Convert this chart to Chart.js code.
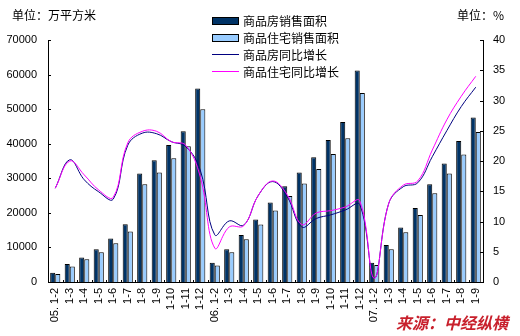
<!DOCTYPE html>
<html>
<head>
<meta charset="utf-8">
<script src="https://cdn.jsdelivr.net/npm/chart.js@4.4.1/dist/chart.umd.min.js"></script>
<style>
  body { margin: 0; background: #fff; }
  #wrap { position: relative; width: 520px; height: 336px; font-family: "Noto Sans CJK SC", sans-serif; }
  #myChart { position: absolute; left: 0; top: 0; }
  .unit { position: absolute; font-size: 12px; line-height: 14px; color: #000; }
  #source { position: absolute; left: 396px; top: 312px; font-size: 16px; line-height: 20px; font-weight: bold; font-style: italic; color: #c8202c; }
  #legend { position: absolute; left: 212px; top: 12px; font-size: 12px; color: #000; }
  .row { position: relative; height: 17px; line-height: 17px; padding-left: 31px; white-space: nowrap; }
  .box { position: absolute; left: 0; top: 5px; width: 25px; height: 6px; border: 1px solid #000; }
  .ln { position: absolute; left: 0; top: 8px; width: 27px; height: 1px; }
</style>
</head>
<body>
<div id="wrap">
  <canvas id="myChart" width="520" height="336"></canvas>
  <div class="unit" style="left:12px; top:8px;">单位：万平方米</div>
  <div class="unit" style="left:457px; top:8px;">单位：%</div>
  <div id="legend"></div>
  <div id="source">来源：中经纵横</div>
</div>
<script>
const months = ['05. 1-2', '1-3', '1-4', '1-5', '1-6', '1-7', '1-8', '1-9', '1-10', '1-11', '1-12',
    '06. 1-2', '1-3', '1-4', '1-5', '1-6', '1-7', '1-8', '1-9', '1-10', '1-11', '1-12',
    '07. 1-2', '1-3', '1-4', '1-5', '1-6', '1-7', '1-8', '1-9'];

// sales area, 10k m2
const salesArea = [2700, 5200, 7100, 9500, 12600, 16700, 31400, 35200, 39600, 43600, 56000,
    5600, 9500, 13600, 18100, 23000, 27700, 31700, 36100, 41100, 46300, 61200,
    5600, 10700, 15800, 21400, 28300, 34300, 40800, 47600];
const houseArea = [2300, 4500, 6600, 8600, 11200, 14600, 28300, 31700, 35800, 39300, 50000,
    4800, 8600, 12400, 16600, 20700, 24900, 28500, 32700, 37000, 41600, 54700,
    4900, 9500, 14400, 19400, 25700, 31400, 36900, 43400];

// year-on-year growth, %
const salesGrowth = [15.5, 20.2, 16.9, 14.9, 13.7, 22.6, 24.6, 24.5, 23.2, 22.4, 18.5,
    7.8, 10.1, 9.4, 14.3, 16.6, 14.1, 9.1, 10.5, 11.1, 11.9, 12.8,
    0.6, 13.0, 15.75, 16.4, 20.7, 25.0, 29.0, 32.2];
const houseGrowth = [15.5, 20.0, 17.7, 15.2, 14.0, 23.0, 24.9, 24.9, 23.2, 22.6, 17.4,
    5.6, 9.1, 9.3, 14.3, 16.7, 14.4, 9.5, 11.4, 11.8, 12.4, 13.4,
    0.6, 13.0, 16.0, 16.7, 21.8, 26.8, 30.7, 34.0];

const areaTicks = [0, 10000, 20000, 30000, 40000, 50000, 60000, 70000];
const growthTicks = [0, 5, 10, 15, 20, 25, 30, 35, 40];

const datasets = [
    { type: 'bar', label: '商品房销售面积', data: salesArea, backgroundColor: '#003366', borderColor: '#000', borderWidth: 1, yAxisID: 'y', order: 2 },
    { type: 'bar', label: '商品住宅销售面积', data: houseArea, backgroundColor: '#99ccff', borderColor: '#000', borderWidth: 1, yAxisID: 'y', order: 2 },
    { type: 'line', label: '商品房同比增长', data: salesGrowth, borderColor: '#000080', borderWidth: 1, pointRadius: 0, tension: 0.4, yAxisID: 'y1', order: 1 },
    { type: 'line', label: '商品住宅同比增长', data: houseGrowth, borderColor: '#ff00ff', borderWidth: 1, pointRadius: 0, tension: 0.4, yAxisID: 'y1', order: 0 }
];

// legend rows
const legend = document.getElementById('legend');
datasets.forEach((ds) => {
    const row = document.createElement('div');
    row.className = 'row';
    const mark = document.createElement('span');
    if (ds.type == 'bar') {
        mark.className = 'box';
        mark.style.background = ds.backgroundColor;
    } else {
        mark.className = 'ln';
        mark.style.background = ds.borderColor;
    }
    row.appendChild(mark);
    row.appendChild(document.createTextNode(ds.label));
    legend.appendChild(row);
});

// small inward tick marks on the three axes
const innerTicks = {
    id: 'innerTicks',
    afterDraw(chart) {
        const ctx = chart.ctx;
        const area = chart.chartArea;
        const x = chart.scales.x;
        ctx.save();
        ctx.strokeStyle = '#000';
        ctx.lineWidth = 1;
        ctx.beginPath();
        areaTicks.forEach((v) => {
            const py = Math.round(chart.scales.y.getPixelForValue(v)) + 0.5;
            ctx.moveTo(area.left, py);
            ctx.lineTo(area.left + 3, py);
        });
        growthTicks.forEach((v) => {
            const py = Math.round(chart.scales.y1.getPixelForValue(v)) + 0.5;
            ctx.moveTo(area.right - 3, py);
            ctx.lineTo(area.right, py);
        });
        const step = x.getPixelForValue(1) - x.getPixelForValue(0);
        for (let i = 0; i <= months.length; i++) {
            const px = Math.round(x.getPixelForValue(i) - step / 2) + 0.5;
            ctx.moveTo(px, area.bottom);
            ctx.lineTo(px, area.bottom - 2);
        }
        ctx.stroke();
        ctx.restore();
    }
};

Chart.defaults.color = '#000';
Chart.defaults.font.family = '"Liberation Sans", Arial, sans-serif';
Chart.defaults.font.size = 11;

new Chart(document.getElementById('myChart'), {
    data: { labels: months, datasets: datasets },
    options: {
        responsive: false,
        animation: false,
        layout: { padding: { top: 40, left: 0, right: 0, bottom: 0 } },
        plugins: { legend: { display: false }, tooltip: { enabled: false } },
        datasets: { bar: { categoryPercentage: 0.7, barPercentage: 1 } },
        scales: {
            x: {
                grid: { display: false, drawTicks: false },
                border: { color: '#000' },
                ticks: { autoSkip: false, minRotation: 90, maxRotation: 90, padding: 6 },
                afterFit: (s) => { s.height = 54; }
            },
            y: {
                position: 'left',
                min: 0, max: 70000,
                grid: { display: false, drawTicks: false },
                border: { color: '#000' },
                ticks: { stepSize: 10000, padding: 11, callback: (v) => String(v) },
                afterFit: (s) => { s.width = 48; }
            },
            y1: {
                position: 'right',
                min: 0, max: 40,
                grid: { display: false, drawTicks: false },
                border: { color: '#000' },
                ticks: { stepSize: 5, padding: 10, callback: (v) => String(v) },
                afterFit: (s) => { s.width = 37; }
            }
        }
    },
    plugins: [innerTicks]
});
</script>
</body>
</html>
